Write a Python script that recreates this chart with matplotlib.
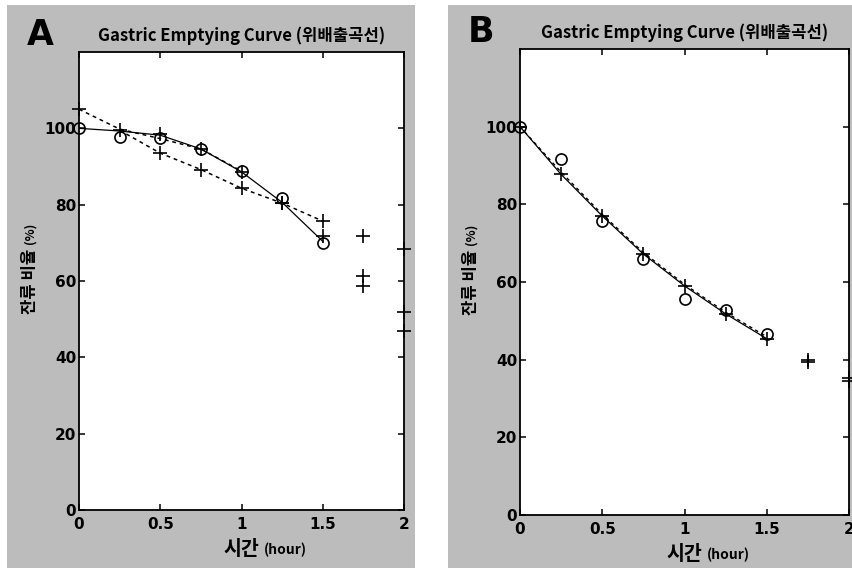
import numpy as np
import matplotlib.pyplot as plt
from matplotlib.patches import Rectangle

plt.rcParams['font.family'] = ['Noto Sans CJK KR', 'DejaVu Sans']

# 시간 (hour)
t = [0, 0.25, 0.5, 0.75, 1.0, 1.25, 1.5]
t_ext = [0, 0.25, 0.5, 0.75, 1.0, 1.25, 1.5, 1.75, 2.0]

# ---- panel A ----
obs_a = [100, 97.6, 97.4, 94.5, 88.8, 81.7, 70.0]
fit1_a = [100, 99.3, 98.2, 94.6, 88.6, 80.6, 70.4]          # solid curve
fit2_a_x = [0, 0.25, 0.5, 0.75, 1.0]
fit2_a = [105, 99.8, 97.3, 94.6, 88.8]                      # upper dashed
fit3_a_x = [0.25, 0.5, 0.75, 1.0, 1.25, 1.5]
fit3_a = [99.5, 93.5, 89.2, 84.3, 80.4, 75.7]               # lower dashed
plus1_a = [105, 99.5, 98.4, 94.5, 88.5, 80.5, 71.8]
extra_a_x = [1.75, 1.75, 1.75, 2.0, 2.0, 2.0]
extra_a = [71.8, 61.4, 58.7, 68.4, 52.0, 47.0]

# ---- panel B ----
obs_b = [100, 91.8, 75.6, 65.9, 55.6, 52.8, 46.7]
pred_b = [100, 87.7, 77.0, 67.2, 59.0, 51.8, 45.4, 39.5, 34.6]
fit2_b = [100, 88.3, 77.4, 67.6, 59.4, 52.2, 45.9]
extra_b_x = [1.75, 2.0]
extra_b = [39.9, 35.4]

title = 'Gastric Emptying Curve (위배출곡선)'
bg = '#bcbcbc'

fig = plt.figure(figsize=(8.52, 5.72), dpi=100)
W, H = 852, 572


def px_rect(x0, y0, x1, y1):
    return [x0 / W, 1 - y1 / H, (x1 - x0) / W, (y1 - y0) / H]


for x0, x1 in [(7, 415), (448, 852)]:
    r = px_rect(x0, 5, x1, 568)
    fig.patches.append(Rectangle((r[0], r[1]), r[2], r[3], transform=fig.transFigure,
                                 facecolor=bg, edgecolor='none', zorder=-5))

axA = fig.add_axes(px_rect(79, 52, 404, 510))
axB = fig.add_axes(px_rect(520, 49, 849, 515))

mk = dict(color='black', linestyle='none', clip_on=False)

axA.plot(t, fit1_a, color='black', lw=0.9)
axA.plot(fit2_a_x, fit2_a, color='black', lw=1.1, ls=(0, (2.5, 2.5)))
axA.plot(fit3_a_x, fit3_a, color='black', lw=1.1, ls=(0, (2.5, 2.5)))
axA.plot(t, obs_a, marker='o', ms=8, mfc='none', mew=1.2, **mk)
axA.plot(t, plus1_a, marker='+', ms=10, mew=1.2, **mk)
axA.plot(fit3_a_x[1:], fit3_a[1:], marker='+', ms=10, mew=1.2, **mk)
axA.plot(extra_a_x, extra_a, marker='+', ms=10, mew=1.2, **mk)

axB.plot(t, pred_b[:7], color='black', lw=0.9)
axB.plot(t, fit2_b, color='black', lw=1.0, ls=(0, (2.5, 2.5)))
axB.plot(t, obs_b, marker='o', ms=8, mfc='none', mew=1.2, **mk)
axB.plot(t_ext, pred_b, marker='+', ms=10, mew=1.2, **mk)
axB.plot(extra_b_x, extra_b, marker='+', ms=10, mew=1.2, **mk)

for ax, letter in [(axA, 'A'), (axB, 'B')]:
    ax.set_zorder(2)
    ax.set_facecolor('white')
    ax.set_xlim(0, 2)
    ax.set_ylim(0, 120)
    ax.set_xticks([0, 0.5, 1, 1.5, 2])
    ax.set_xticklabels(['0', '0.5', '1', '1.5', '2'])
    ax.set_yticks([0, 20, 40, 60, 80, 100])
    ax.tick_params(direction='in', length=4, width=1.1, top=True, right=True,
                   labelsize=11, pad=2)
    ax.tick_params(axis='x', pad=5)
    for lab in ax.get_xticklabels() + ax.get_yticklabels():
        lab.set_family(['DejaVu Sans'])
        lab.set_fontweight('bold')
    for s in ax.spines.values():
        s.set_linewidth(1.3)
    ax.set_title(title, fontsize=12, fontweight='bold', pad=8)
    xl = ax.set_xlabel('시간', fontsize=14, fontweight='bold', labelpad=6)
    ax.annotate('(hour)', xy=(1, 0.5), xycoords=xl, xytext=(3, 0),
                textcoords='offset points', va='center', ha='left',
                fontsize=10, fontweight='bold')
    yl = ax.set_ylabel('잔류 비율', fontsize=12, fontweight='bold', labelpad=4)
    ax.annotate('(%)', xy=(0.5, 1), xycoords=yl, xytext=(0, 3),
                textcoords='offset points', va='bottom', ha='center',
                rotation=90, fontsize=9, fontweight='bold')

fig.text(27 / W, 1 - 45 / H, 'A', fontsize=25, fontweight='bold',
         family=['DejaVu Sans'], va='baseline')
fig.text(468 / W, 1 - 42 / H, 'B', fontsize=25, fontweight='bold',
         family=['DejaVu Sans'], va='baseline')

fig.savefig('out.png', dpi=100, facecolor='white')
